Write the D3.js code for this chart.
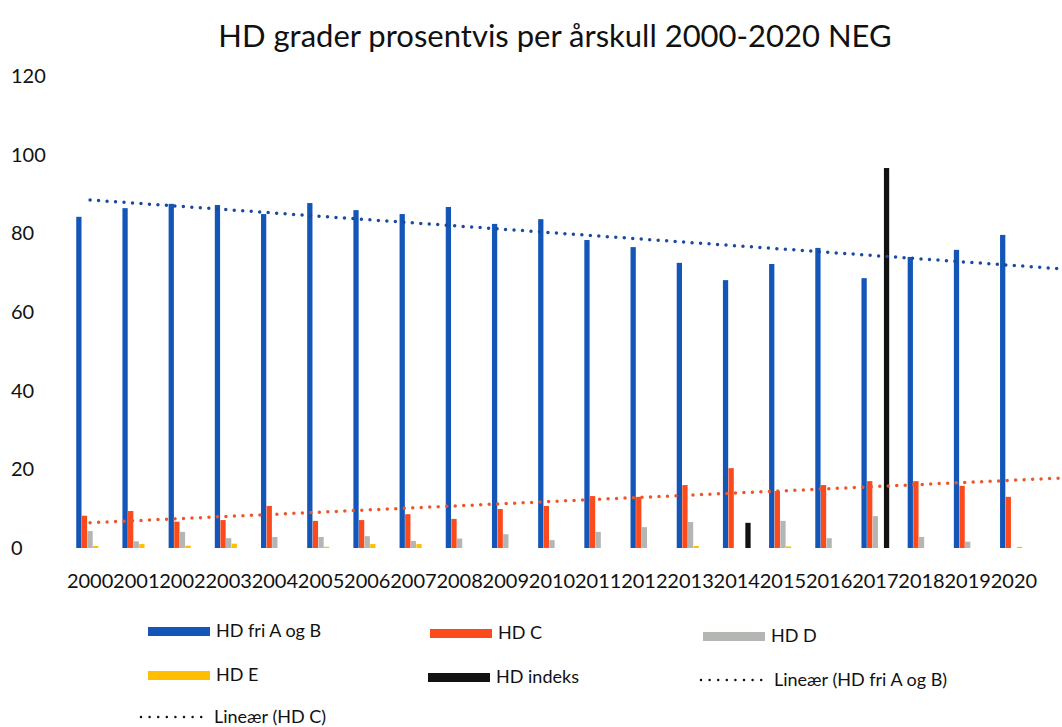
<!DOCTYPE html>
<html>
<head>
<meta charset="utf-8">
<script src="https://cdn.jsdelivr.net/npm/d3@7"></script>
<style>
  body { margin: 0; background: #fff; }
  text { font-family: Lato, "Open Sans", sans-serif; fill: #111; }
</style>
</head>
<body>
<svg id="chart"></svg>
<script>
const WIDTH = 1062,
    HEIGHT = 727;

const years = ['2000', '2001', '2002', '2003', '2004', '2005', '2006', '2007', '2008', '2009', '2010',
    '2011', '2012', '2013', '2014', '2015', '2016', '2017', '2018', '2019', '2020'];
const hdFriAB = [84.2, 86.4, 87.5, 87.2, 84.9, 87.7, 85.9, 84.9, 86.7, 82.4, 83.6,
    78.3, 76.5, 72.5, 68.1, 72.2, 76.3, 68.6, 74.0, 75.8, 79.6];
const hdC = [8.2, 9.4, 6.7, 7.1, 10.7, 6.9, 7.1, 8.6, 7.4, 9.9, 10.7,
    13.2, 13.0, 16.0, 20.3, 14.5, 16.0, 17.0, 17.0, 15.8, 13.0];
const hdD = [4.3, 1.7, 4.1, 2.5, 2.8, 2.8, 3.0, 1.8, 2.4, 3.5, 2.0,
    4.1, 5.3, 6.6, 0, 6.9, 2.5, 8.1, 2.8, 1.6, 0];
const hdE = [0.5, 1.0, 0.6, 1.1, 0, 0.3, 1.0, 1.0, 0, 0, 0,
    0, 0, 0.5, 0, 0.4, 0, 0, 0, 0, 0.3];
const hdIndeks = [0, 0, 0, 0, 0, 0, 0, 0, 0, 0, 0,
    0, 0, 0, 6.4, 0, 0, 96.6, 0, 0, 0];
const yTicks = [0, 20, 40, 60, 80, 100, 120];

const series = [
    { name: 'HD fri A og B', values: hdFriAB, color: '#1456b8' },
    { name: 'HD C', values: hdC, color: '#fb4a1c' },
    { name: 'HD D', values: hdD, color: '#b4b6b4' },
    { name: 'HD E', values: hdE, color: '#ffbf00' },
    { name: 'HD indeks', values: hdIndeks, color: '#121212' }
];

const svg = d3.select('svg#chart')
    .attr('width', WIDTH)
    .attr('height', HEIGHT);

const x0 = d3.scaleBand()
    .domain(years)
    .range([67, 1037])
    .paddingInner(0.4)
    .paddingOuter(0.2);

const x1 = d3.scaleBand()
    .domain(series.map(s => s.name))
    .range([0, x0.bandwidth()])
    .paddingInner(0.06);

const y = d3.scaleLinear()
    .domain([0, 120])
    .range([548, 76]);

// title
svg.append('text')
    .attr('x', 555)
    .attr('y', 47)
    .attr('text-anchor', 'middle')
    .style('font-size', '31px')
    .text('HD grader prosentvis per årskull 2000-2020 NEG');

// y axis labels only
svg.append('g')
    .selectAll('text')
    .data(yTicks)
    .enter().append('text')
        .attr('x', 11)
        .attr('y', d => y(d))
        .attr('dy', '0.35em')
        .style('font-size', '20px')
        .text(d => d);

// x axis labels
svg.append('g')
    .selectAll('text')
    .data(years)
    .enter().append('text')
        .attr('x', d => x0(d) + x0.bandwidth() / 2)
        .attr('y', 588)
        .attr('text-anchor', 'middle')
        .style('font-size', '20px')
        .text(d => d);

// bars
const group = svg.append('g')
    .selectAll('g')
    .data(years)
    .enter().append('g')
        .attr('transform', d => `translate(${x0(d)},0)`);

group.selectAll('rect')
    .data((d, i) => series.map(s => ({ name: s.name, color: s.color, value: s.values[i] })))
    .enter().append('rect')
        .attr('x', d => x1(d.name))
        .attr('width', x1.bandwidth())
        .attr('y', d => y(d.value))
        .attr('height', d => y(0) - y(d.value))
        .attr('fill', d => d.color);

// linear trendlines (least squares over category index)
function fit(values) {
    const mx = d3.mean(values, (v, i) => i);
    const my = d3.mean(values);
    let sxy = 0, sxx = 0;
    values.forEach((v, i) => { sxy += (i - mx) * (v - my); sxx += (i - mx) * (i - mx); });
    const b = sxy / sxx;
    return t => my + b * (t - mx);
}

const step = x0.step();
const cx = t => x0(years[0]) + x0.bandwidth() / 2 + t * step;
const tEnd = (WIDTH - cx(0)) / step;

const trendLine = d3.line()
    .x(d => cx(d.t))
    .y(d => y(d.v));

[
    { values: hdFriAB, color: '#1a4aa0' },
    { values: hdC, color: '#f0552a' }
].forEach(tr => {
    const f = fit(tr.values);
    svg.append('path')
        .attr('d', trendLine([0, tEnd].map(t => ({ t: t, v: f(t) }))))
        .attr('fill', 'none')
        .attr('stroke', tr.color)
        .attr('stroke-width', 3.5)
        .attr('stroke-linecap', 'round')
        .attr('stroke-dasharray', '0,8.5');
});

// legend
const legend = [
    { name: 'HD fri A og B', color: '#1456b8', type: 'bar', x: 148, y: 631 },
    { name: 'HD C', color: '#fb4a1c', type: 'bar', x: 430, y: 633 },
    { name: 'HD D', color: '#b4b6b4', type: 'bar', x: 703, y: 636 },
    { name: 'HD E', color: '#ffbf00', type: 'bar', x: 148, y: 675 },
    { name: 'HD indeks', color: '#121212', type: 'bar', x: 428, y: 677 },
    { name: 'Lineær (HD fri A og B)', color: '#111', type: 'line', x: 700, y: 680 },
    { name: 'Lineær (HD C)', color: '#111', type: 'line', x: 140, y: 717 }
];

const item = svg.append('g')
    .selectAll('g')
    .data(legend)
    .enter().append('g')
        .attr('transform', d => `translate(${d.x},${d.y})`);

item.filter(d => d.type === 'bar')
    .append('rect')
        .attr('x', 0)
        .attr('y', -4)
        .attr('width', 62)
        .attr('height', 9)
        .attr('fill', d => d.color);

item.filter(d => d.type === 'line')
    .append('line')
        .attr('x1', 1)
        .attr('x2', 62)
        .attr('y1', 0)
        .attr('y2', 0)
        .attr('stroke', d => d.color)
        .attr('stroke-width', 2.5)
        .attr('stroke-linecap', 'round')
        .attr('stroke-dasharray', '0,8.6');

item.append('text')
    .attr('x', d => d.type === 'bar' ? 68 : 74)
    .attr('y', 0)
    .attr('dy', '0.35em')
    .style('font-size', '18px')
    .text(d => d.name);
</script>
</body>
</html>
